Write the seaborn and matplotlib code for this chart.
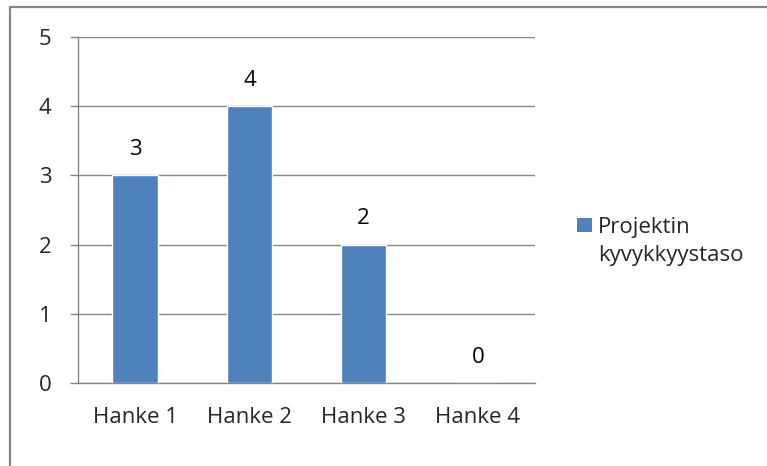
import pandas as pd
import seaborn as sns
from matplotlib import pyplot as plt
from matplotlib.lines import Line2D
from matplotlib.patches import Patch

categories = ["Hanke 1", "Hanke 2", "Hanke 3", "Hanke 4"]
values = [3, 4, 2, 0]
series_lines = ["Projektin", "kyvykkyystaso"]
y_ticks = [0, 1, 2, 3, 4, 5]

bar_color = "#4F81BD"
grid_color = "#868686"
fs = 16

sns.set_style("white")
plt.rcParams["font.family"] = ["Open Sans", "DejaVu Sans"]

df = pd.DataFrame({"hanke": categories, "taso": values})

fig = plt.figure(figsize=(7.67, 4.66), dpi=100)
ax = fig.add_axes([78 / 767, 83 / 466, 457 / 767, 346 / 466])

sns.barplot(data=df, x="hanke", y="taso", color=bar_color, width=0.4,
            saturation=1, ax=ax, zorder=3)

ax.set_ylim(0, 5)
ax.set_xlim(-0.5, 3.5)
ax.set_yticks(y_ticks)
ax.set_xlabel("")
ax.set_ylabel("")
ax.yaxis.grid(True, color=grid_color, linewidth=1)
ax.set_axisbelow(True)
for side in ["top", "right"]:
    ax.spines[side].set_visible(False)
for side in ["left", "bottom"]:
    ax.spines[side].set_color(grid_color)
    ax.spines[side].set_linewidth(1)

# category boundary ticks below the axis
ax.set_xticks([-0.5, 0.5, 1.5, 2.5, 3.5], minor=True)
ax.tick_params(axis="x", which="minor", length=6, direction="out", color=grid_color, width=1)
ax.tick_params(axis="x", which="major", length=0, pad=17, labelsize=fs)
ax.tick_params(axis="y", length=6, direction="out", color=grid_color, width=1,
               labelsize=fs, pad=13, left=True)

for i, v in enumerate(values):
    ax.annotate(str(v), (i, v), xytext=(0, 11), textcoords="offset points",
                ha="center", va="bottom", fontsize=fs, color="black")

handles = [Patch(facecolor=bar_color, edgecolor="none"),
           Patch(facecolor="none", edgecolor="none")]
fig.legend(handles, series_lines, loc="upper left", bbox_to_anchor=(566 / 767, 1 - 206 / 466),
           frameon=False, fontsize=fs, handlelength=0.65, handleheight=0.6,
           handletextpad=0.3, borderpad=0, labelspacing=0.3)

# outer chart border (top and left)
fig.add_artist(Line2D([10 / 767, 1], [1 - 7 / 466, 1 - 7 / 466], color=grid_color, linewidth=1.6,
                      transform=fig.transFigure))
fig.add_artist(Line2D([10 / 767, 10 / 767], [0, 1 - 7 / 466], color=grid_color, linewidth=1.6,
                      transform=fig.transFigure))

fig.savefig("out.png", dpi=100)
